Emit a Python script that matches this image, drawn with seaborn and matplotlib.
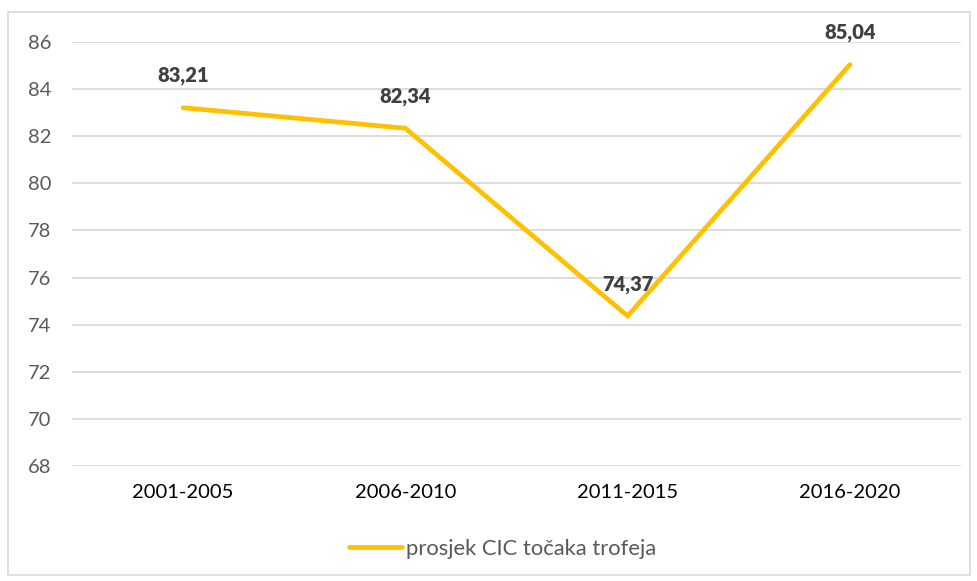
import matplotlib
matplotlib.use("Agg")
import matplotlib.pyplot as plt
import seaborn as sns
import pandas as pd
from matplotlib.patches import Rectangle

categories = ["2001-2005", "2006-2010", "2011-2015", "2016-2020"]
values = [83.21, 82.34, 74.37, 85.04]
labels = ["83,21", "82,34", "74,37", "85,04"]
series_name = "prosjek CIC točaka trofeja"
yticks = [68, 70, 72, 74, 76, 78, 80, 82, 84, 86]

sns.set_theme(style="white")
plt.rcParams['font.family'] = ['Lato', 'DejaVu Sans']

W, H = 977, 581
fig = plt.figure(figsize=(W / 100, H / 100), dpi=100)
ax = fig.add_axes([72 / W, (H - 466) / H, (961 - 72) / W, (466 - 42) / H])

df = pd.DataFrame({"period": categories, "value": values})
sns.lineplot(data=df, x="period", y="value", ax=ax, color="#FFC000",
             linewidth=3.4, label=series_name, sort=False,
             solid_capstyle="round", solid_joinstyle="miter")

ax.set_xlim(-0.5, len(categories) - 0.5)
ax.set_ylim(68, 86)
ax.set_yticks(yticks)
ax.set_yticklabels([str(t) for t in yticks])
for s in ax.spines.values():
    s.set_visible(False)
ax.grid(axis="y", color="#D9D9D9", linewidth=1.3)
ax.grid(axis="x", visible=False)
ax.set_axisbelow(True)
ax.set_xlabel("")
ax.set_ylabel("")
ax.tick_params(axis="y", length=0, pad=15, labelsize=14.5, labelcolor="#595959")
ax.tick_params(axis="x", length=0, pad=13, labelsize=14.5, labelcolor="#000000")

for i, (v, lab) in enumerate(zip(values, labels)):
    ax.annotate(lab, (i, v), xytext=(0, 23), textcoords="offset points",
                ha="center", va="center", fontsize=14.5, fontweight="heavy",
                color="#404040")

leg = ax.legend(loc="center", bbox_to_anchor=((503 - 72) / (961 - 72), (H - 549 - (H - 466)) / (466 - 42)),
                frameon=False, fontsize=15.8, handlelength=2.4, handletextpad=0.2,
                labelcolor="#595959")
for line in leg.get_lines():
    line.set_linewidth(3.4)
    line.set_solid_capstyle("round")

fig.patches.append(Rectangle((8 / W, (H - 575) / H), (970 - 8) / W, (575 - 12) / H,
                             transform=fig.transFigure, fill=False,
                             edgecolor="#D9D9D9", linewidth=1.2))

fig.savefig("out.png", dpi=100, facecolor="white")
